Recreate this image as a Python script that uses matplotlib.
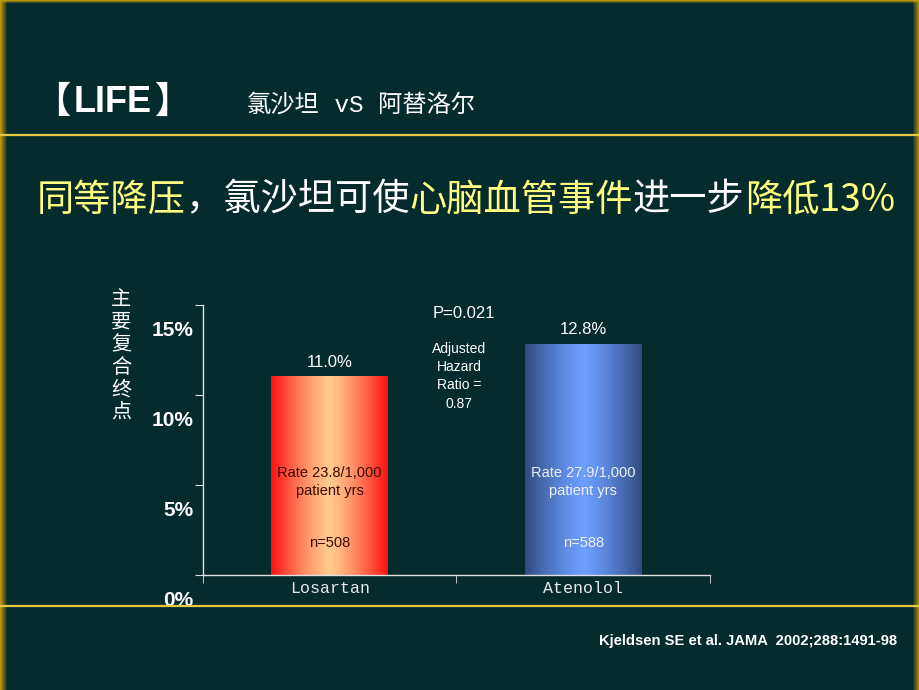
"""
LIFE 研究：氯沙坦 vs 阿替洛尔，主要复合终点发生率（幻灯片重绘）
"""

import numpy as np
import matplotlib.pyplot as plt
from matplotlib.patches import Rectangle
from matplotlib.transforms import ScaledTranslation

# =========================================================
# 数据
# =========================================================
CATEGORIES = ["Losartan", "Atenolol"]
EVENT_RATES = [11.0, 12.8]                 # 主要复合终点 (%)
VALUE_LABELS = ["11.0%", "12.8%"]
RATE_TEXTS = ["Rate 23.8/1,000\npatient yrs", "Rate 27.9/1,000\npatient yrs"]
N_TEXTS = ["n=508", "n=588"]
Y_TICKS = [0, 5, 10, 15]
Y_TICK_LABELS = ["0%", "5%", "10%", "15%"]

P_TEXT = "P=0.021"
HR_TEXT = "Adjusted\nHazard\nRatio =\n0.87"

HEADLINE = [
    ("同等降压", "yellow"),
    ("，氯沙坦可使", "white"),
    ("心脑血管事件", "yellow"),
    ("进一步", "white"),
    ("降低13%", "yellow"),
]

# =========================================================
# 样式
# =========================================================
BG = "#052B2D"
GOLD = "#E8C840"
YELLOW = "#FFFF80"
CJK = ["Noto Sans CJK SC", "DejaVu Sans"]
LATIN = ["Liberation Sans", "Noto Sans CJK SC"]

W, H = 920, 690
fig = plt.figure(figsize=(W / 100, H / 100), dpi=100, facecolor=BG)
renderer = fig.canvas.get_renderer()


def fx(px):
    return px / W


def fy(py):
    return 1 - py / H


# 金色边框（左右渐变 + 顶部）
for i in range(7):
    a = 1.0 - i / 7
    fig.patches.append(Rectangle((fx(i), 0), fx(1), 1, transform=fig.transFigure,
                                 color="#C0960C", alpha=a, lw=0))
    fig.patches.append(Rectangle((fx(W - 1 - i), 0), fx(1), 1, transform=fig.transFigure,
                                 color="#C0960C", alpha=a, lw=0))
for i in range(3):
    fig.patches.append(Rectangle((0, fy(i + 1)), 1, 1 / H, transform=fig.transFigure,
                                 color="#C0960C", alpha=1.0 - i / 3, lw=0))

# 分隔线
for yy in (135, 606):
    fig.lines.append(plt.Line2D([0, 1], [fy(yy), fy(yy)], transform=fig.transFigure,
                                color=GOLD, lw=1.6))

# 标题：【 LIFE 】分段放，括号间距更接近原图
x_px = 34
for piece, sz in [("【", 26), ("LIFE", 26), ("】", 26)]:
    t = fig.text(fx(x_px), fy(103), piece, color="white", fontsize=sz, fontweight="bold",
                 family=LATIN, va="center", ha="left")
    x_px += t.get_window_extent(renderer).width + 3

x_px = 247
for piece, fam in [("氯沙坦", CJK), (" vS ", "Liberation Mono"), ("阿替洛尔", CJK)]:
    t = fig.text(fx(x_px), fy(105), piece, color="white", fontsize=17.5,
                 family=fam, va="center", ha="left")
    x_px += t.get_window_extent(renderer).width

# 彩色大标题，逐段拼接
x_px = 37
for piece, col in HEADLINE:
    t = fig.text(fx(x_px), fy(200), piece, color=YELLOW if col == "yellow" else "white",
                 fontsize=26.8, family=CJK, va="center", ha="left")
    x_px += t.get_window_extent(renderer).width

# 引用
fig.text(fx(897), fy(641), "Kjeldsen SE et al. JAMA  2002;288:1491-98", color="white",
         fontsize=10.6, fontweight="bold", family=LATIN, va="center", ha="right")

# =========================================================
# 图表
# =========================================================
ax = fig.add_axes([fx(203), 1 - 575 / H, fx(710) - fx(203), 270 / H])
ax.set_facecolor("none")

for s in ("top", "right"):
    ax.spines[s].set_visible(False)
for s in ("left", "bottom"):
    ax.spines[s].set_color("#E0E0E0")
    ax.spines[s].set_linewidth(1)

ax.set_yticks(Y_TICKS)
ax.set_yticklabels(Y_TICK_LABELS, color="white", fontsize=15, fontweight="bold", family=LATIN)
ax.tick_params(axis="y", direction="out", length=6, color="#E0E0E0", pad=1)
offset = ScaledTranslation(0, -0.23, fig.dpi_scale_trans)
for lab in ax.get_yticklabels():
    lab.set_transform(lab.get_transform() + offset)

xpos = np.arange(len(CATEGORIES)) + 0.5
ax.set_xticks(xpos)
ax.set_xticklabels(CATEGORIES, color="#E8E8E8", fontsize=12, family="Liberation Mono")
ax.tick_params(axis="x", which="major", length=0, pad=4)
ax.set_xticks([0, 1, 2], minor=True)
ax.tick_params(axis="x", which="minor", direction="out", length=6, color="#E0E0E0")

bar_w = 0.46
grad = np.abs(np.linspace(-1, 1, 256)) ** 1.3
grad_cols = [
    (np.array([1.0, 0.79, 0.55]), np.array([1.0, 0.06, 0.06])),   # 红色渐变：中间 / 边缘
    (np.array([0.42, 0.62, 1.0]), np.array([0.19, 0.29, 0.50])),  # 蓝色渐变
]
text_cols = ["#3A0800", "#F0F0F0"]

for i, (xc, v) in enumerate(zip(xpos, EVENT_RATES)):
    mid, edge = grad_cols[i]
    img = mid[None, :] * (1 - grad[:, None]) + edge[None, :] * grad[:, None]
    ax.imshow(img[None, :, :], extent=[xc - bar_w / 2, xc + bar_w / 2, 0, v],
              aspect="auto", interpolation="bilinear", zorder=2)
    ax.text(xc, v + 0.4, VALUE_LABELS[i], color="white", fontsize=12, family=LATIN,
            ha="center", va="bottom")
    ax.text(xc, 5.17, RATE_TEXTS[i], color=text_cols[i], fontsize=10.5, family=LATIN,
            ha="center", va="center", linespacing=1.3, zorder=3)
    ax.text(xc, 1.78, N_TEXTS[i], color=text_cols[i], fontsize=10.5, family=LATIN,
            ha="center", va="center", zorder=3)

ax.set_xlim(0, 2)
ax.set_ylim(0, 15)

ax.text(1.03, 14.5, P_TEXT, color="white", fontsize=12, family=LATIN, ha="center", va="center")
ax.text(1.01, 11.05, HR_TEXT, color="white", fontsize=10, family=LATIN, ha="center",
        va="center", linespacing=1.4)

# 纵轴标题（竖排）
fig.text(fx(121), fy(356), "\n".join("主要复合终点"), color="white", fontsize=14.5,
         family=CJK, ha="center", va="center", linespacing=1.1)

fig.savefig("out.png", dpi=100, facecolor=BG)
plt.close(fig)
